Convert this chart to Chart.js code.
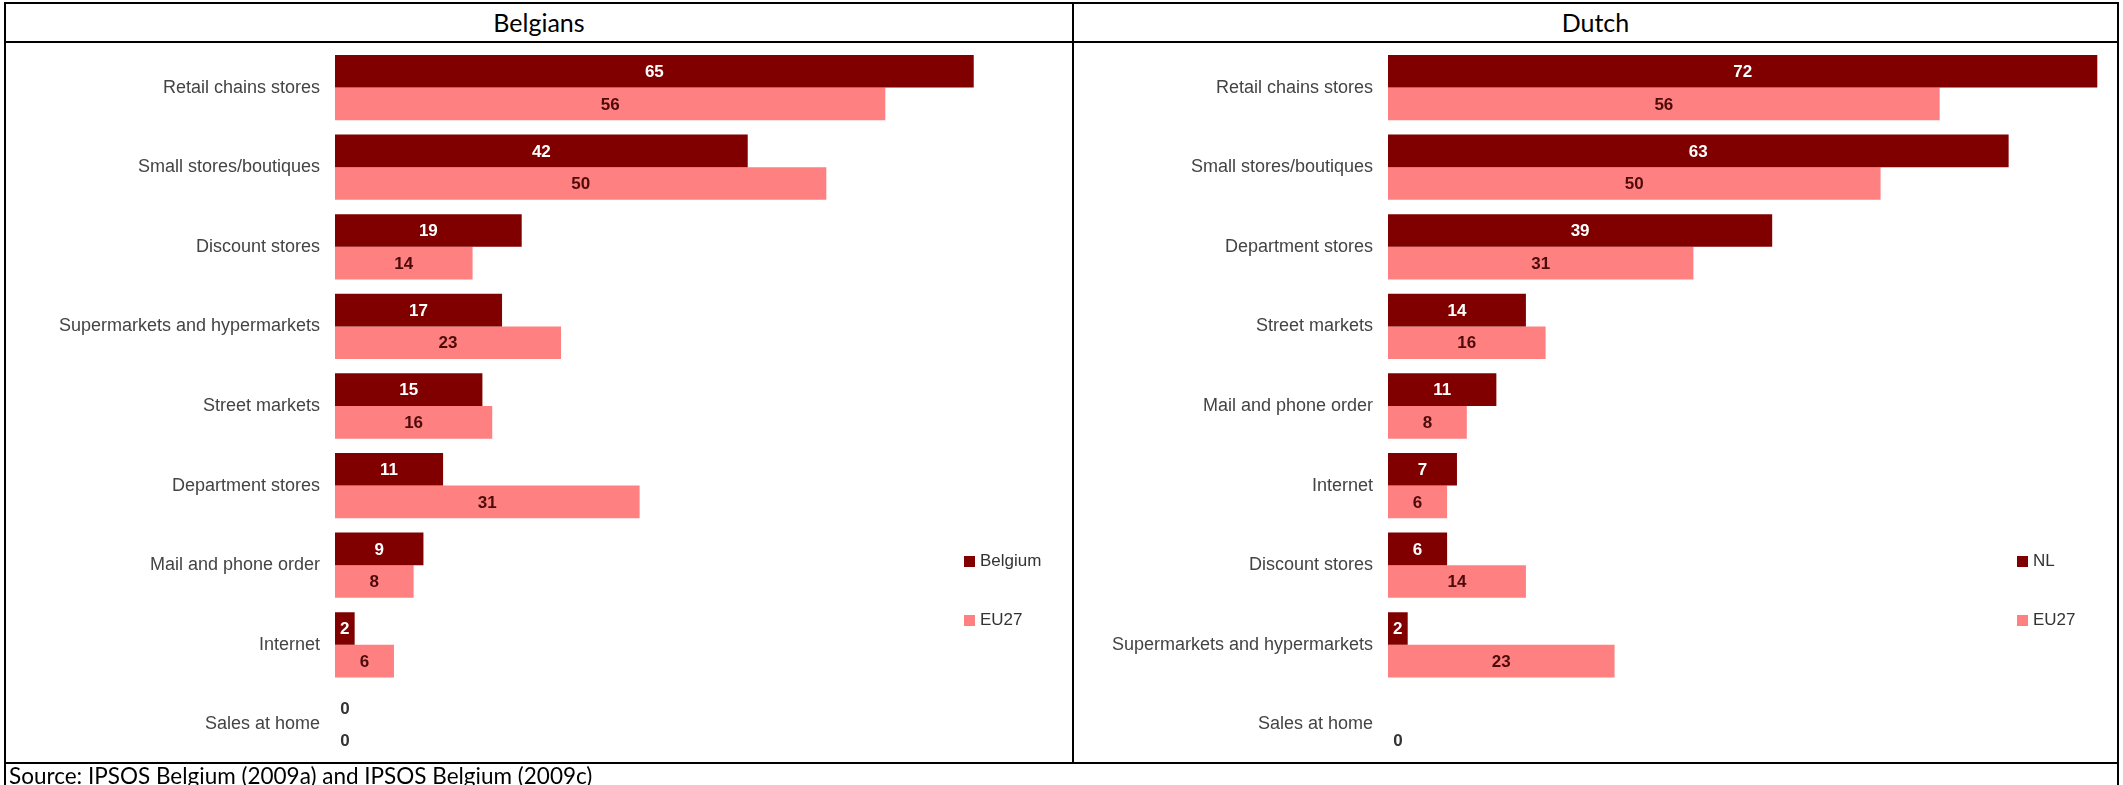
<!DOCTYPE html>
<html>
<head>
<meta charset="utf-8">
<title>Purchase channels</title>
<script src="https://cdn.jsdelivr.net/npm/chart.js@4"></script>
<style>
  body { margin: 0; background: #fff; width: 2123px; height: 785px; overflow: hidden; position: relative; font-family: Lato, 'Open Sans', sans-serif; }
  canvas { position: absolute; }
  .line { position: absolute; background: #000; }
  .title { position: absolute; top: 4px; height: 37px; line-height: 37px; text-align: center; font-size: 25px; color: #000; }
  .source { position: absolute; left: 9px; top: 764px; font-size: 22.5px; line-height: 24px; color: #000; white-space: nowrap; }
  .key { position: absolute; font: 17px 'Liberation Sans', Arial, sans-serif; color: #333; line-height: 14px; white-space: nowrap; }
  .key span { display: inline-block; width: 11px; height: 11px; margin-right: 5px; vertical-align: -1px; }
</style>
</head>
<body>
<div class="title" style="left:6px;width:1066px">Belgians</div>
<div class="title" style="left:1074px;width:1043px">Dutch</div>

<canvas id="beChart" width="1066" height="768" style="left:6px;top:22px"></canvas>
<canvas id="nlChart" width="1043" height="768" style="left:1074px;top:22px"></canvas>

<div class="key" style="left:964px;top:554px"><span style="background:#800000"></span>Belgium</div>
<div class="key" style="left:964px;top:613px"><span style="background:#ff8080"></span>EU27</div>
<div class="key" style="left:2017px;top:554px"><span style="background:#800000"></span>NL</div>
<div class="key" style="left:2017px;top:613px"><span style="background:#ff8080"></span>EU27</div>

<div class="line" style="left:4px;top:2px;width:2115px;height:2px"></div>
<div class="line" style="left:4px;top:41px;width:2115px;height:2px"></div>
<div class="line" style="left:4px;top:762px;width:2115px;height:2px"></div>
<div class="line" style="left:4px;top:2px;width:2px;height:783px"></div>
<div class="line" style="left:2117px;top:2px;width:2px;height:783px"></div>
<div class="line" style="left:1072px;top:2px;width:2px;height:762px"></div>

<div class="source">Source: IPSOS Belgium (2009a) and IPSOS Belgium (2009c)</div>

<script>
'use strict'

//Belgians
const beCategories = ['Retail chains stores', 'Small stores/boutiques', 'Discount stores',
  'Supermarkets and hypermarkets', 'Street markets', 'Department stores',
  'Mail and phone order', 'Internet', 'Sales at home'];
const beBelgium = [65, 42, 19, 17, 15, 11, 9, 2, 0];
const beEU27 = [56, 50, 14, 23, 16, 31, 8, 6, 0];

//Dutch
const nlCategories = ['Retail chains stores', 'Small stores/boutiques', 'Department stores',
  'Street markets', 'Mail and phone order', 'Internet', 'Discount stores',
  'Supermarkets and hypermarkets', 'Sales at home'];
const nlNL = [72, 63, 39, 14, 11, 7, 6, 2, null];
const nlEU27 = [56, 50, 31, 16, 8, 6, 14, 23, 0];

const darkRed = '#800000';
const lightRed = '#ff8080';

// writes each value in the middle of its bar, zeros just right of the axis
const barValues = {
  id: 'barValues',
  afterDatasetsDraw(chart) {
    const ctx = chart.ctx;
    ctx.save();
    ctx.font = 'bold 17px "Liberation Sans", Arial, sans-serif';
    ctx.textAlign = 'center';
    ctx.textBaseline = 'middle';
    chart.data.datasets.forEach((ds, i) => {
      chart.getDatasetMeta(i).data.forEach((bar, j) => {
        const v = ds.data[j];
        if (v === null || v === undefined) return;
        let x = (bar.x + bar.base) / 2;
        ctx.fillStyle = ds.valueColor;
        if (v === 0) {
          x = bar.base + 10;
          ctx.fillStyle = '#333';
        }
        ctx.fillText(String(v), x, bar.y + 1);
      });
    });
    ctx.restore();
  }
};

function makeChart(id, labels, mine, mineName, eu, axisWidth, xMax) {
  const data = {
    labels: labels,
    datasets: [{
      label: mineName,
      data: mine,
      backgroundColor: darkRed,
      valueColor: '#fff',
      categoryPercentage: 0.82,
      barPercentage: 1.0
    },
    {
      label: 'EU27',
      data: eu,
      backgroundColor: lightRed,
      valueColor: '#4d0a0a',
      categoryPercentage: 0.82,
      barPercentage: 1.0
    }]
  };
  const config = {
    type: 'bar',
    data: data,
    options: {
      indexAxis: 'y',
      responsive: false,
      animation: false,
      layout: { padding: 0 },
      plugins: {
        legend: { display: false },
        tooltip: { enabled: false }
      },
      scales: {
        x: { display: false, min: 0, max: xMax },
        y: {
          grid: { display: false, drawTicks: false },
          border: { display: false },
          afterFit: (scale) => { scale.width = axisWidth; },
          ticks: {
            padding: 15,
            color: '#444',
            font: { family: '"Liberation Sans", Arial, sans-serif', size: 18 }
          }
        }
      }
    },
    plugins: [barValues]
  };
  return new Chart(document.getElementById(id), config);
}

makeChart('beChart', beCategories, beBelgium, 'Belgium', beEU27, 329, 75);
makeChart('nlChart', nlCategories, nlNL, 'NL', nlEU27, 314, 74);
</script>
</body>
</html>
